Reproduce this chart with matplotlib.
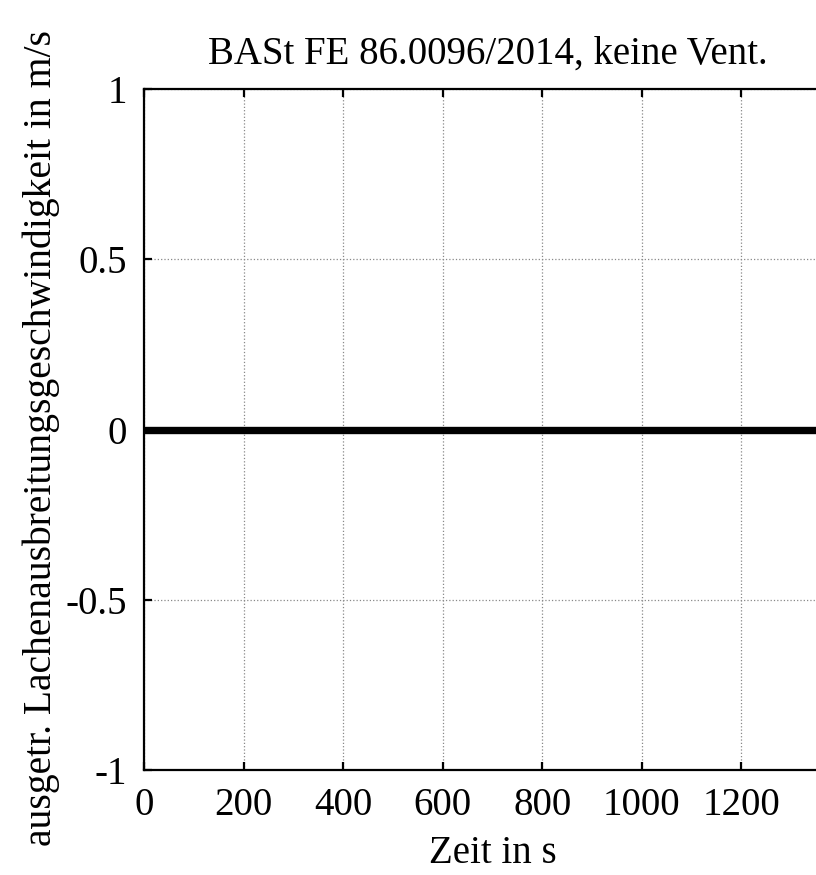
import matplotlib
matplotlib.use("Agg")
import matplotlib.pyplot as plt
import numpy as np

# data
zeit = [0, 1400]
geschw = [0, 0]
xticks = [0, 200, 400, 600, 800, 1000, 1200]
yticks = [-1, -0.5, 0, 0.5, 1]
yticklabels = ["-1", "-0.5", "0", "0.5", "1"]

plt.rcParams['font.family'] = ['Liberation Serif', 'DejaVu Serif']

fig = plt.figure(figsize=(8.16, 8.75), dpi=100)
ax = fig.add_axes([144 / 816, 105 / 875, 697 / 816, 681 / 875])

ax.plot(zeit, geschw, color="black", linewidth=5.3, solid_capstyle="butt")

ax.set_xlim(0, 1400)
ax.set_ylim(-1, 1)
ax.set_xticks(xticks)
ax.set_yticks(yticks)
ax.set_yticklabels(yticklabels)
ax.grid(True, linestyle=":", color="#888888", linewidth=0.9)

for s in ["left", "bottom", "top"]:
    ax.spines[s].set_linewidth(1.6)
ax.spines["right"].set_visible(False)
ax.tick_params(direction="in", length=6, width=1.6, top=True, right=False,
               labelsize=28, pad=12)

ax.set_xlabel("Zeit in s", fontsize=28, labelpad=8)
ax.set_ylabel("ausgetr. Lachenausbreitungsgeschwindigkeit in m/s", fontsize=28.5,
              va="center")
ax.yaxis.set_label_coords(-0.148, 0.488)
ax.set_title("BASt FE 86.0096/2014, keine Vent.", fontsize=28, x=(488 - 144) / 697, pad=18)

fig.savefig("out.png", dpi=100)
